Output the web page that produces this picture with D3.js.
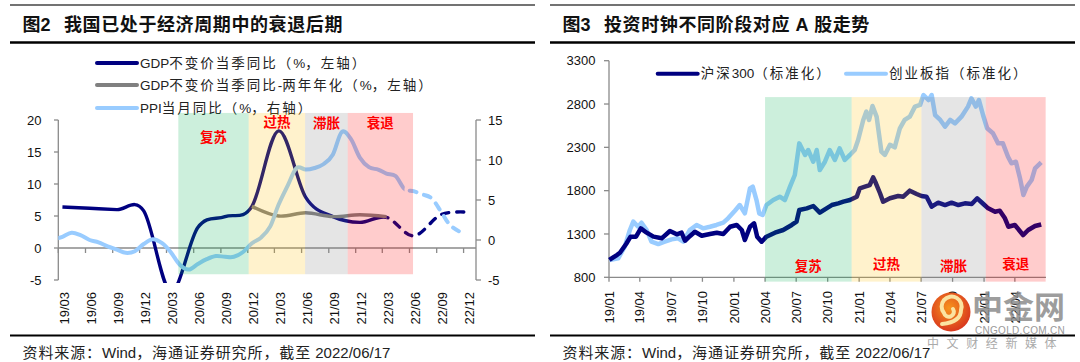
<!DOCTYPE html>
<html>
<head>
<meta charset="utf-8">
<script src="https://cdn.jsdelivr.net/npm/d3@7"></script>
<style>
body { margin: 0; background: #fff; }
svg { display: block; }
text { font-family: "Liberation Sans", Arial, "Noto Sans CJK SC", sans-serif; }
</style>
</head>
<body>
<script>
// ---- data: left chart (quarterly GDP, monthly PPI) ----
var gdpYoY = [
  ["2019-03", 6.4], ["2019-06", 6.2], ["2019-09", 6.0], ["2019-12", 5.8],
  ["2020-03", -6.8], ["2020-06", 3.2], ["2020-09", 4.9], ["2020-12", 6.5],
  ["2021-03", 18.3], ["2021-06", 7.9], ["2021-09", 4.9], ["2021-12", 4.0],
  ["2022-03", 4.8], ["2022-06", 1.9], ["2022-09", 5.2], ["2022-12", 5.6]
];
var gdpForecastFrom = "2022-03";
var gdpTwoYear = [
  ["2020-12", 6.5], ["2021-03", 5.0], ["2021-06", 5.5], ["2021-09", 4.9],
  ["2021-12", 5.2], ["2022-03", 4.9]
];
var ppiYoY = [
  ["2019-02", 0.1], ["2019-03", 0.4], ["2019-04", 0.9], ["2019-05", 0.6], ["2019-06", 0.0],
  ["2019-07", -0.3], ["2019-08", -0.8], ["2019-09", -1.2], ["2019-10", -1.6], ["2019-11", -1.4],
  ["2019-12", -0.5], ["2020-01", 0.1], ["2020-02", -0.4], ["2020-03", -1.5], ["2020-04", -3.1],
  ["2020-05", -3.7], ["2020-06", -3.0], ["2020-07", -2.4], ["2020-08", -2.0], ["2020-09", -2.1],
  ["2020-10", -2.1], ["2020-11", -1.5], ["2020-12", -0.4], ["2021-01", 0.3], ["2021-02", 1.7],
  ["2021-03", 4.4], ["2021-04", 6.8], ["2021-05", 9.0], ["2021-06", 8.8], ["2021-07", 9.0],
  ["2021-08", 9.5], ["2021-09", 10.7], ["2021-10", 13.5], ["2021-11", 12.6], ["2021-12", 10.3],
  ["2022-01", 9.1], ["2022-02", 8.8], ["2022-03", 8.3], ["2022-04", 8.0], ["2022-05", 6.4],
  ["2022-06", 6.1], ["2022-07", 5.7], ["2022-08", 5.2], ["2022-09", 3.6], ["2022-10", 1.9],
  ["2022-11", 1.1]
];
var ppiForecastFrom = "2022-05";
var leftTicksY = [-5, 0, 5, 10, 15, 20];
var rightTicksY = [-5, 0, 5, 10, 15];

// ---- data: right chart (standardized index levels) ----
var hs300 = [
  ["2019-01-02", 1000], ["2019-01-25", 1060], ["2019-02-02", 1084], ["2019-02-20", 1184],
  ["2019-03-05", 1269], ["2019-03-21", 1269], ["2019-04-04", 1365], ["2019-04-21", 1315],
  ["2019-05-11", 1269], ["2019-06-04", 1250], ["2019-06-28", 1334], ["2019-07-18", 1296],
  ["2019-08-01", 1315], ["2019-08-11", 1222], ["2019-08-26", 1277], ["2019-09-09", 1326],
  ["2019-09-29", 1280], ["2019-10-23", 1300], ["2019-11-12", 1315], ["2019-12-01", 1300],
  ["2019-12-21", 1384], ["2020-01-09", 1404], ["2020-01-24", 1346], ["2020-02-02", 1230],
  ["2020-02-17", 1384], ["2020-02-29", 1423], ["2020-03-09", 1269], ["2020-03-22", 1211],
  ["2020-04-05", 1269], ["2020-04-30", 1315], ["2020-05-24", 1346], ["2020-06-18", 1404],
  ["2020-07-02", 1442], ["2020-07-10", 1577], ["2020-08-01", 1596], ["2020-08-20", 1623],
  ["2020-09-08", 1546], ["2020-09-23", 1585], ["2020-10-13", 1634], ["2020-11-01", 1654],
  ["2020-11-16", 1673], ["2020-12-05", 1692], ["2020-12-25", 1730], ["2021-01-03", 1827],
  ["2021-01-18", 1846], ["2021-02-01", 1865], ["2021-02-11", 1954], ["2021-02-19", 1885],
  ["2021-03-03", 1770], ["2021-03-12", 1673], ["2021-04-01", 1712], ["2021-04-25", 1738],
  ["2021-05-10", 1730], ["2021-05-29", 1800], ["2021-06-18", 1762], ["2021-07-02", 1738],
  ["2021-07-17", 1730], ["2021-08-01", 1615], ["2021-08-20", 1661], ["2021-09-09", 1634],
  ["2021-09-28", 1661], ["2021-10-18", 1634], ["2021-11-06", 1654], ["2021-11-26", 1646],
  ["2021-12-12", 1712], ["2021-12-30", 1646], ["2022-01-13", 1596], ["2022-02-02", 1557],
  ["2022-02-16", 1569], ["2022-03-03", 1481], ["2022-03-13", 1384], ["2022-04-01", 1404],
  ["2022-04-25", 1288], ["2022-05-10", 1346], ["2022-05-30", 1392], ["2022-06-17", 1410]
];
var chinext = [
  ["2019-01-02", 1000], ["2019-01-28", 1019], ["2019-02-16", 1153], ["2019-03-03", 1346],
  ["2019-03-13", 1442], ["2019-03-27", 1384], ["2019-04-06", 1430], ["2019-04-21", 1346],
  ["2019-05-05", 1211], ["2019-05-25", 1184], ["2019-06-13", 1211], ["2019-07-03", 1238],
  ["2019-07-22", 1250], ["2019-08-06", 1211], ["2019-08-25", 1346], ["2019-09-14", 1404],
  ["2019-10-03", 1365], ["2019-10-23", 1384], ["2019-11-11", 1404], ["2019-12-01", 1430],
  ["2019-12-15", 1481], ["2020-01-04", 1569], ["2020-01-18", 1634], ["2020-02-02", 1538],
  ["2020-02-17", 1827], ["2020-02-25", 1846], ["2020-03-07", 1692], ["2020-03-15", 1538],
  ["2020-03-25", 1519], ["2020-04-05", 1634], ["2020-04-25", 1692], ["2020-05-14", 1730],
  ["2020-05-29", 1692], ["2020-06-13", 1846], ["2020-06-27", 1981], ["2020-07-10", 2346],
  ["2020-07-27", 2212], ["2020-08-05", 2269], ["2020-08-20", 2134], ["2020-08-30", 2269],
  ["2020-09-08", 2038], ["2020-09-23", 2134], ["2020-10-07", 2269], ["2020-10-22", 2154],
  ["2020-11-05", 2289], ["2020-11-20", 2154], ["2020-12-05", 2212], ["2020-12-19", 2269],
  ["2020-12-29", 2385], ["2021-01-13", 2616], ["2021-01-22", 2712], ["2021-01-30", 2616],
  ["2021-02-09", 2777], ["2021-02-21", 2654], ["2021-03-07", 2250], ["2021-03-17", 2212],
  ["2021-04-01", 2330], ["2021-04-15", 2300], ["2021-04-30", 2520], ["2021-05-14", 2616],
  ["2021-05-29", 2654], ["2021-06-13", 2770], ["2021-06-28", 2789], ["2021-07-08", 2904],
  ["2021-07-23", 2846], ["2021-08-01", 2904], ["2021-08-11", 2673], ["2021-08-26", 2616],
  ["2021-09-09", 2539], ["2021-09-24", 2616], ["2021-10-08", 2577], ["2021-10-27", 2654],
  ["2021-11-15", 2770], ["2021-11-25", 2866], ["2021-12-08", 2770], ["2021-12-17", 2846],
  ["2021-12-29", 2673], ["2022-01-10", 2520], ["2022-01-27", 2462], ["2022-02-11", 2346],
  ["2022-02-25", 2346], ["2022-03-12", 2192], ["2022-03-22", 2116], ["2022-04-04", 2134],
  ["2022-04-16", 1943], ["2022-04-26", 1750], ["2022-05-06", 1846], ["2022-05-20", 1923],
  ["2022-05-30", 2058], ["2022-06-17", 2127]
];
var stockTicksY = [800, 1300, 1800, 2300, 2800, 3300];

// ---- investment clock phases ----
var phaseNames = ["复苏", "过热", "滞胀", "衰退"];
var phaseColors = ["#00B050", "#FFC000", "#7F7F7F", "#FF0000"];
var leftPhaseBreaks = ["2020-04-10", "2020-12-04", "2021-06-13", "2021-11-04", "2022-06-13"];
var rightPhaseBreaks = ["2020-04-01", "2020-12-10", "2021-07-02", "2022-01-06", "2022-06-30"];
var leftBand = [21.1, -4.1];     // left-axis units
var rightBand = [2880, 750];     // index units

var svg = d3.select("body").append("svg")
    .attr("width", 1080)
    .attr("height", 362);

var parseDay = d3.timeParse("%Y-%m-%d");
var parseMonth = function (s) { return parseDay(s + "-15"); };
var fmtTick = d3.timeFormat("%y/%m");
var axisColor = "#8a8a8a";

// writes text in runs so only the CJK characters get extra spacing
function spacedText(sel, str, spacing) {
    var runs = str.match(/[\u3000-\u9fff\uff00-\uffef]+|[^\u3000-\u9fff\uff00-\uffef]+/g);
    runs.forEach(function (r) {
        var cjk = /[\u3000-\u9fff\uff00-\uffef]/.test(r);
        sel.append("tspan").attr("letter-spacing", cjk ? spacing : 0).text(r);
    });
    return sel;
}

// title rules, title and source note for each panel
function frame(x0, x1, tag, title) {
    svg.append("line").attr("x1", x0).attr("x2", x1).attr("y1", 5).attr("y2", 5)
        .attr("stroke", "#444").attr("stroke-width", 1.5);
    svg.append("text").attr("x", x0 + 12.5).attr("y", 31)
        .attr("font-size", 18).attr("font-weight", "bold").attr("fill", "#111").text(tag);
    svg.append("text").attr("x", x0 + 54).attr("y", 31)
        .attr("font-size", 18).attr("font-weight", "bold").attr("fill", "#111")
        .attr("letter-spacing", 0.6).text(title);
    svg.append("line").attr("x1", x0).attr("x2", x1).attr("y1", 42.6).attr("y2", 42.6)
        .attr("stroke", "#000").attr("stroke-width", 2.5);
    svg.append("line").attr("x1", x0).attr("x2", x1).attr("y1", 335.6).attr("y2", 335.6)
        .attr("stroke", "#000").attr("stroke-width", 2);
    var note = svg.append("text").attr("x", x0 + 12.5).attr("y", 358)
        .attr("font-size", 15).attr("fill", "#222");
    spacedText(note, "资料来源：Wind，海通证券研究所，截至 2022/06/17", 0.9);
}
frame(10, 535, "图2", "我国已处于经济周期中的衰退后期");
frame(550, 1075, "图3", "投资时钟不同阶段对应 A 股走势");

function legendItem(x, y, color, label) {
    svg.append("line").attr("x1", x).attr("x2", x + 40).attr("y1", y).attr("y2", y)
        .attr("stroke", color).attr("stroke-width", 4).attr("stroke-linecap", "round");
    var t = svg.append("text").attr("x", x + 43).attr("y", y).attr("dy", "0.35em")
        .attr("font-size", 13.5).attr("fill", "#222");
    spacedText(t, label, 2);
}

// ================= left chart =================
var xL = d3.scaleTime().domain([new Date(2019, 2, 1), new Date(2023, 0, 12)]).range([58.3, 476]);
var yL = d3.scaleLinear().domain([-5, 20]).range([280, 120]);
var yR = d3.scaleLinear().domain([-5, 15]).range([280, 120]);

legendItem(97, 63, "#000080", "GDP不变价当季同比（%，左轴）");
legendItem(97, 85, "#808080", "GDP不变价当季同比-两年年化（%，左轴）");
legendItem(97, 108, "#99CCFF", "PPI当月同比（%，右轴）");

var defs = svg.append("defs");
defs.append("clipPath").attr("id", "plotL").append("rect")
    .attr("x", xL.range()[0]).attr("y", 100).attr("width", xL.range()[1] - xL.range()[0]).attr("height", 183);

function splitClip(id, x0, x1) {
    defs.append("clipPath").attr("id", id).append("rect")
        .attr("x", x0).attr("y", 0).attr("width", x1 - x0).attr("height", 362);
}
var gdpCut = xL(parseMonth(gdpForecastFrom));
var ppiCut = xL(parseMonth(ppiForecastFrom));
splitClip("gdpSolid", 0, gdpCut);
splitClip("gdpDash", gdpCut, 1080);
splitClip("ppiSolid", 0, ppiCut);
splitClip("ppiDash", ppiCut, 1080);

// axes
var gAxL = svg.append("g");
gAxL.append("line").attr("x1", xL.range()[0]).attr("x2", xL.range()[0])
    .attr("y1", yL(20)).attr("y2", yL(-5)).attr("stroke", axisColor).attr("stroke-width", 1.3);
gAxL.append("line").attr("x1", xL.range()[1]).attr("x2", xL.range()[1])
    .attr("y1", yR(15)).attr("y2", yR(-5)).attr("stroke", axisColor).attr("stroke-width", 1.3);
gAxL.append("line").attr("x1", xL.range()[0]).attr("x2", xL.range()[1])
    .attr("y1", yL(0)).attr("y2", yL(0)).attr("stroke", axisColor).attr("stroke-width", 1.3);

leftTicksY.forEach(function (v) {
    gAxL.append("line").attr("x1", 54).attr("x2", 58.3).attr("y1", yL(v)).attr("y2", yL(v))
        .attr("stroke", axisColor).attr("stroke-width", 1.3);
    gAxL.append("text").attr("x", 41.5).attr("y", yL(v)).attr("dy", "0.36em")
        .attr("text-anchor", "end").attr("font-size", 13).attr("fill", "#111").text(v);
});
rightTicksY.forEach(function (v) {
    gAxL.append("line").attr("x1", 476).attr("x2", 481).attr("y1", yR(v)).attr("y2", yR(v))
        .attr("stroke", axisColor).attr("stroke-width", 1.3);
    gAxL.append("text").attr("x", 488).attr("y", yR(v)).attr("dy", "0.36em")
        .attr("font-size", 13).attr("fill", "#111").text(v);
});

var xTicksL = d3.timeMonth.range(new Date(2019, 2, 1), new Date(2023, 0, 2), 3);
xTicksL.forEach(function (t) {
    gAxL.append("line").attr("x1", xL(t)).attr("x2", xL(t)).attr("y1", yL(0)).attr("y2", yL(0) + 5)
        .attr("stroke", axisColor).attr("stroke-width", 1.3);
    gAxL.append("text")
        .attr("transform", "translate(" + (xL(t) + 10.4) + ",292) rotate(-90)")
        .attr("text-anchor", "end").attr("font-size", 13).attr("fill", "#111").text(fmtTick(t));
});

// series
var smooth = d3.curveCardinal.tension(0);
var lineL = d3.line().x(function (d) { return xL(parseMonth(d[0])); })
    .y(function (d) { return yL(d[1]); }).curve(smooth);
var lineR = d3.line().x(function (d) { return xL(parseMonth(d[0])); })
    .y(function (d) { return yR(d[1]); }).curve(smooth);

var plotL = svg.append("g").attr("clip-path", "url(#plotL)");

function splitLine(data, gen, color, solidId, dashId, width) {
    plotL.append("g").attr("clip-path", "url(#" + solidId + ")").append("path")
        .attr("d", gen(data)).attr("fill", "none").attr("stroke", color).attr("stroke-width", width);
    plotL.append("g").attr("clip-path", "url(#" + dashId + ")").append("path")
        .attr("d", gen(data)).attr("fill", "none").attr("stroke", color).attr("stroke-width", width)
        .attr("stroke-dasharray", "7,8").attr("stroke-linecap", "round");
}
splitLine(gdpYoY, lineL, "#000080", "gdpSolid", "gdpDash", 3.4);
plotL.append("path").attr("d", lineL(gdpTwoYear)).attr("fill", "none")
    .attr("stroke", "#808080").attr("stroke-width", 3.4);
splitLine(ppiYoY, lineR, "#99CCFF", "ppiSolid", "ppiDash", 4);

// phase bands on top (80% transparent)
var phases = d3.range(4);
svg.selectAll(".phaseL").data(phases).enter().append("rect")
    .attr("class", "phaseL")
    .attr("x", function (i) { return xL(parseDay(leftPhaseBreaks[i])); })
    .attr("width", function (i) { return xL(parseDay(leftPhaseBreaks[i + 1])) - xL(parseDay(leftPhaseBreaks[i])); })
    .attr("y", yL(leftBand[0]))
    .attr("height", yL(leftBand[1]) - yL(leftBand[0]))
    .attr("fill", function (i) { return phaseColors[i]; })
    .attr("fill-opacity", 0.2);

var leftLabelY = [137, 122, 123, 123];
svg.selectAll(".labL").data(phases).enter().append("text")
    .attr("class", "labL")
    .attr("x", function (i) { return (xL(parseDay(leftPhaseBreaks[i])) + xL(parseDay(leftPhaseBreaks[i + 1]))) / 2; })
    .attr("y", function (i) { return leftLabelY[i]; })
    .attr("dy", "0.38em")
    .attr("text-anchor", "middle").attr("font-size", 13.5).attr("font-weight", "bold")
    .attr("fill", "#FF0000").text(function (i) { return phaseNames[i]; });

// ================= right chart =================
var xS = d3.scaleTime().domain([new Date(2019, 0, 1), new Date(2022, 6, 1)]).range([609, 1046]);
var yS = d3.scaleLinear().domain([800, 3300]).range([277.3, 60.7]);

legendItem(657.7, 73.7, "#000080", "沪深300（标准化）");
legendItem(846, 73.7, "#99CCFF", "创业板指（标准化）");

var gAxS = svg.append("g");
gAxS.append("line").attr("x1", 609).attr("x2", 609).attr("y1", yS(3300)).attr("y2", yS(800))
    .attr("stroke", axisColor).attr("stroke-width", 1.3);
gAxS.append("line").attr("x1", xS.range()[0]).attr("x2", xS.range()[1]).attr("y1", yS(800)).attr("y2", yS(800))
    .attr("stroke", axisColor).attr("stroke-width", 1.3);
stockTicksY.forEach(function (v) {
    gAxS.append("line").attr("x1", 604).attr("x2", 609).attr("y1", yS(v)).attr("y2", yS(v))
        .attr("stroke", axisColor).attr("stroke-width", 1.3);
    gAxS.append("text").attr("x", 595.4).attr("y", yS(v)).attr("dy", "0.36em")
        .attr("text-anchor", "end").attr("font-size", 13).attr("fill", "#111").text(v);
});
var xTicksS = d3.timeMonth.range(new Date(2019, 0, 1), new Date(2022, 4, 1), 3);
xTicksS.forEach(function (t) {
    gAxS.append("line").attr("x1", xS(t)).attr("x2", xS(t)).attr("y1", yS(800)).attr("y2", yS(800) + 4.5)
        .attr("stroke", axisColor).attr("stroke-width", 1.3);
    gAxS.append("text")
        .attr("transform", "translate(" + (xS(t) + 4.7) + ",291) rotate(-90)")
        .attr("text-anchor", "end").attr("font-size", 13).attr("fill", "#111").text(fmtTick(t));
});

var lineS = d3.line().x(function (d) { return xS(parseDay(d[0])); })
    .y(function (d) { return yS(d[1]); });
svg.append("path").attr("d", lineS(chinext)).attr("fill", "none")
    .attr("stroke", "#99CCFF").attr("stroke-width", 4.5).attr("stroke-linejoin", "round");
svg.append("path").attr("d", lineS(hs300)).attr("fill", "none")
    .attr("stroke", "#000080").attr("stroke-width", 4.5).attr("stroke-linejoin", "round");

svg.selectAll(".phaseS").data(phases).enter().append("rect")
    .attr("class", "phaseS")
    .attr("x", function (i) { return xS(parseDay(rightPhaseBreaks[i])); })
    .attr("width", function (i) { return xS(parseDay(rightPhaseBreaks[i + 1])) - xS(parseDay(rightPhaseBreaks[i])); })
    .attr("y", yS(rightBand[0]))
    .attr("height", yS(rightBand[1]) - yS(rightBand[0]))
    .attr("fill", function (i) { return phaseColors[i]; })
    .attr("fill-opacity", 0.2);

svg.selectAll(".labS").data(phases).enter().append("text")
    .attr("class", "labS")
    .attr("x", function (i) { return (xS(parseDay(rightPhaseBreaks[i])) + xS(parseDay(rightPhaseBreaks[i + 1]))) / 2; })
    .attr("y", function (i) { return i % 2 ? 264 : 266; })
    .attr("dy", "0.38em")
    .attr("text-anchor", "middle").attr("font-size", 13.5).attr("font-weight", "bold")
    .attr("fill", "#FF0000").text(function (i) { return phaseNames[i]; });

// ---- site watermark ----
var grad = defs.append("radialGradient").attr("id", "logoGrad").attr("cx", "45%").attr("cy", "40%").attr("r", "60%");
grad.append("stop").attr("offset", "0%").attr("stop-color", "#F7941D");
grad.append("stop").attr("offset", "100%").attr("stop-color", "#D9381E");
var wm = svg.append("g");
var cx = 951, cy = 312;
wm.append("circle").attr("cx", cx).attr("cy", cy).attr("r", 19.5).attr("fill", "url(#logoGrad)");
wm.append("path")
    .attr("d", "M" + (cx - 9) + "," + (cy + 12) + " Q" + (cx + 10) + "," + (cy + 10) + " " + (cx + 10) + "," + (cy - 2)
        + " A10,10 0 1 0 " + (cx - 7) + "," + (cy + 1) + " A5,5 0 1 0 " + (cx + 2) + "," + (cy - 3))
    .attr("fill", "none").attr("stroke", "#FBE3A1").attr("stroke-width", 4).attr("stroke-linecap", "round");
wm.append("text").attr("x", 972).attr("y", 318).attr("font-size", 31).attr("font-weight", "bold")
    .attr("fill", "#8c8c8c").attr("fill-opacity", 0.85).attr("font-family", "Noto Sans CJK SC").text("中金网");
wm.append("text").attr("x", 975).attr("y", 334).attr("font-size", 10).attr("fill", "#999")
    .attr("letter-spacing", 0.3).text("CNGOLD.COM.CN");
wm.append("text").attr("x", 927).attr("y", 348).attr("font-size", 12).attr("fill", "#aaa")
    .attr("letter-spacing", 7.6).attr("font-family", "Noto Sans CJK SC").text("中文财经新媒体");
</script>
</body>
</html>
